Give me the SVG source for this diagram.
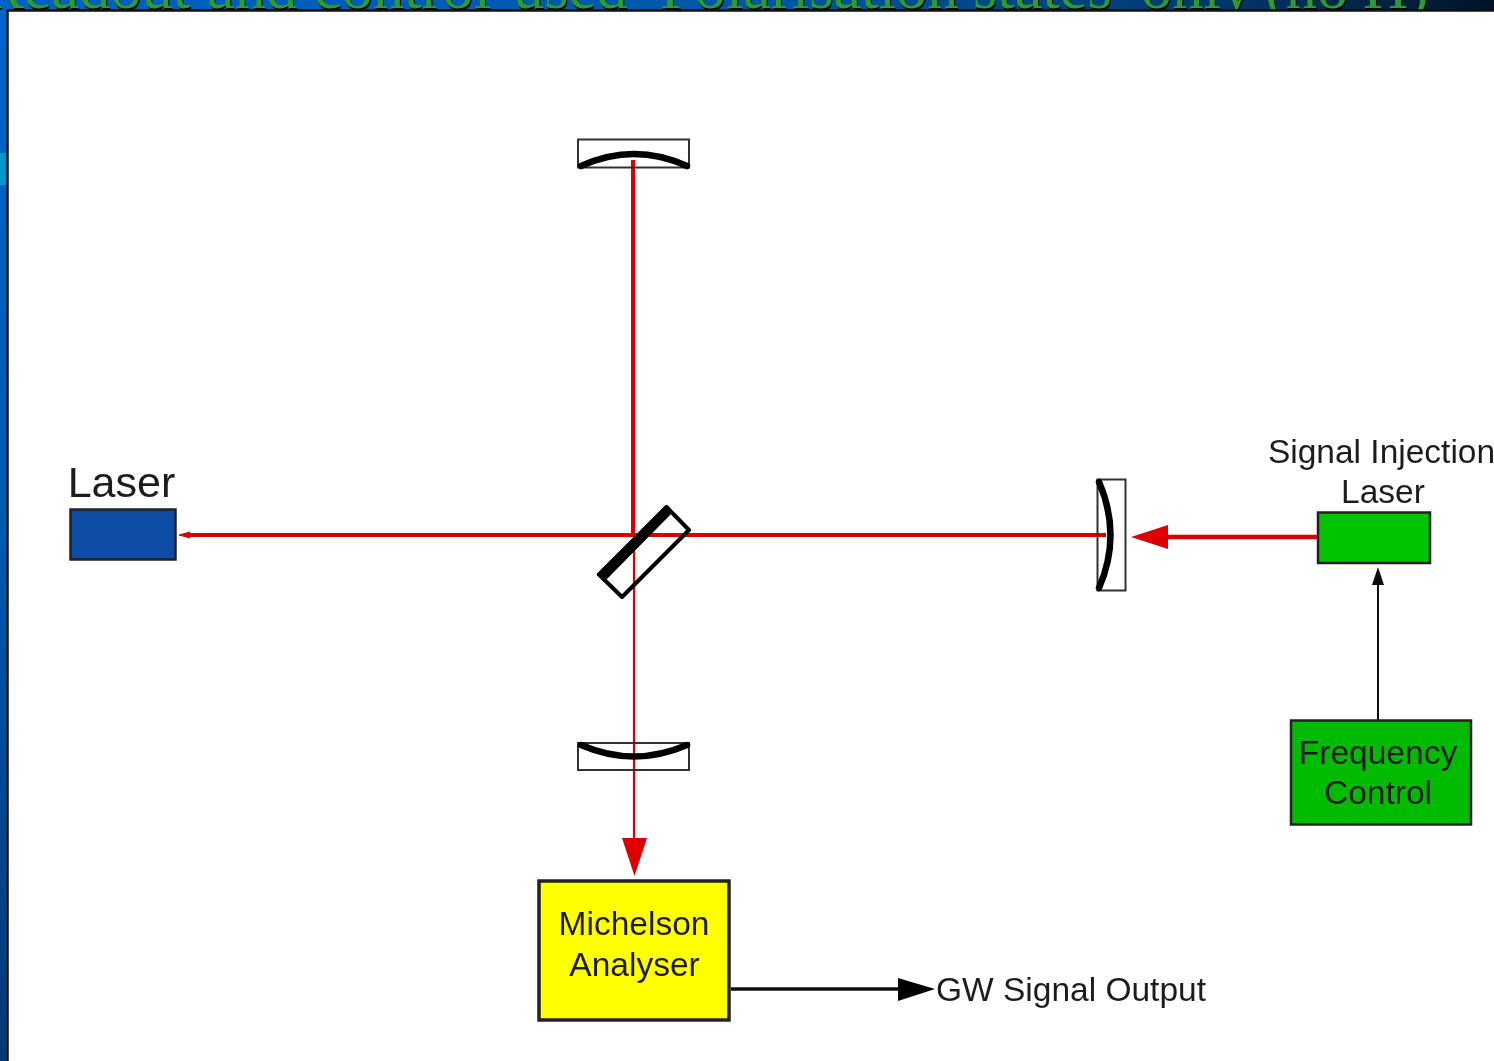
<svg xmlns="http://www.w3.org/2000/svg" width="1494" height="1061" viewBox="0 0 1494 1061">
<style>
.s{font-family:"Liberation Sans",Arial,sans-serif;fill:#1f1f1f;text-anchor:middle}
.f{font-size:33.500px}
.box{stroke:#222;stroke-width:2.500}
.holder{fill:none;stroke:#333;stroke-width:2}
.mir{fill:none;stroke:#000;stroke-width:6.500;stroke-linecap:round}
.r{stroke:#dc0006;fill:none}
.t{font-family:"Liberation Serif","Times New Roman",serif;font-size:62.500px}
</style>
<defs>
<linearGradient id="bar" x1="0" y1="0" x2="1" y2="0">
<stop offset="0" stop-color="#0062c4"/><stop offset=".5" stop-color="#0057a8"/><stop offset=".8" stop-color="#003a70"/><stop offset="1" stop-color="#001428"/>
</linearGradient>
<linearGradient id="side" x1="0" y1="0" x2="0" y2="1">
<stop offset="0" stop-color="#0066cc"/><stop offset=".5" stop-color="#0058b0"/><stop offset="1" stop-color="#003a78"/>
</linearGradient>
<clipPath id="top"><rect x="0" y="0" width="1494" height="10"/></clipPath>
<filter id="soft" x="-5%" y="-5%" width="110%" height="110%"><feGaussianBlur stdDeviation="0.6"/></filter>
</defs>
<rect id="page" width="1494" height="1061" fill="#fff"/>
<g id="slide-frame">
<rect x="0" y="0" width="1494" height="10" fill="url(#bar)"/>
<rect x="0" y="0" width="6.500" height="1061" fill="url(#side)"/>
<rect x="0" y="153" width="6.500" height="32" fill="#0098cc"/>
<g clip-path="url(#top)">
<text class="t" y="9.500" fill="#000"><tspan x="-17">Readout</tspan><tspan x="208">and</tspan><tspan x="315">control</tspan><tspan x="514">used</tspan><tspan x="661">Polarisation</tspan><tspan x="974">states</tspan><tspan x="1142">only</tspan><tspan x="1266">(no</tspan><tspan x="1364">H)</tspan></text>
<text class="t" y="8" fill="#2f9b2f"><tspan x="-18">Readout</tspan><tspan x="207">and</tspan><tspan x="314">control</tspan><tspan x="513">used</tspan><tspan x="660">Polarisation</tspan><tspan x="973">states</tspan><tspan x="1141">only</tspan><tspan x="1265">(no</tspan><tspan x="1363">H)</tspan></text>
</g>
<path d="M7.500 1061V10.500H1494" fill="none" stroke="#111" stroke-width="2.500"/>
</g>
<g filter="url(#soft)">
<g id="connectors">
<path class="r" stroke-width="4" d="M633 160V535"/>
<path class="r" stroke-width="4" d="M186 535H1106"/>
<path class="r" stroke-width="2.200" d="M634 535V845"/>
<path d="M179 535L190 532 188 535 190 538Z" fill="#dc0006" stroke="#dc0006"/>
<path d="M634.500 876L622 838H647Z" fill="#dc0006"/>
<path class="r" stroke-width="4.500" d="M1165 537H1318"/>
<path d="M1131 537L1168 525V549Z" fill="#dc0006"/>
<path d="M1378 720V584" stroke="#111" stroke-width="2" fill="none"/>
<path d="M1378 567L1372 585H1384Z" fill="#111"/>
<path d="M731 989H900" stroke="#111" stroke-width="3.500" fill="none"/>
<path d="M935 989L898 978V1001Z" fill="#000"/>
</g>
<g id="laser">
<rect class="box" x="70.500" y="509.500" width="105" height="50" fill="#0d4ea6"/>
<text class="s" x="121.500" y="497" font-size="43">Laser</text>
</g>
<g id="top-mirror">
<rect class="holder" x="578" y="139.500" width="111" height="28"/>
<path class="mir" d="M581 166Q634 142 687 166"/>
</g>
<g id="bottom-mirror">
<rect class="holder" x="578" y="743" width="111" height="27"/>
<path class="mir" d="M581 745Q634 768 687 745"/>
</g>
<g id="right-mirror">
<rect class="holder" x="1097.500" y="479.500" width="28" height="111"/>
<path class="mir" d="M1099 482Q1122 535 1099 588"/>
</g>
<g id="beam-splitter">
<path d="M666.500 507L689 530 622 597 599 574.500Z" fill="none" stroke="#000" stroke-width="4" stroke-linejoin="round"/>
<path d="M666.500 505.500L672 512 604 581 597.500 574.500Z" fill="#000" stroke="#000" stroke-width="1.500" stroke-linejoin="round"/>
</g>
<g id="signal-injection-laser">
<rect class="box" x="1318" y="512.500" width="112" height="50.500" fill="#00c400"/>
<text class="s f" x="1381.500" y="463">Signal Injection</text>
<text class="s f" x="1383" y="503">Laser</text>
</g>
<g id="frequency-control">
<rect class="box" x="1291" y="720.500" width="180" height="104" fill="#00bb00"/>
<text class="s f" x="1378" y="764">Frequency</text>
<text class="s f" x="1378" y="804">Control</text>
</g>
<g id="michelson-analyser">
<rect x="539" y="881" width="190" height="139" fill="#ffff00" stroke="#222" stroke-width="3.500"/>
<text class="s f" x="634" y="935">Michelson</text>
<text class="s f" x="634.500" y="976">Analyser</text>
</g>
<g id="gw-signal-output">
<text class="s f" x="1071" y="1001">GW Signal Output</text>
</g>
</g>
</svg>
